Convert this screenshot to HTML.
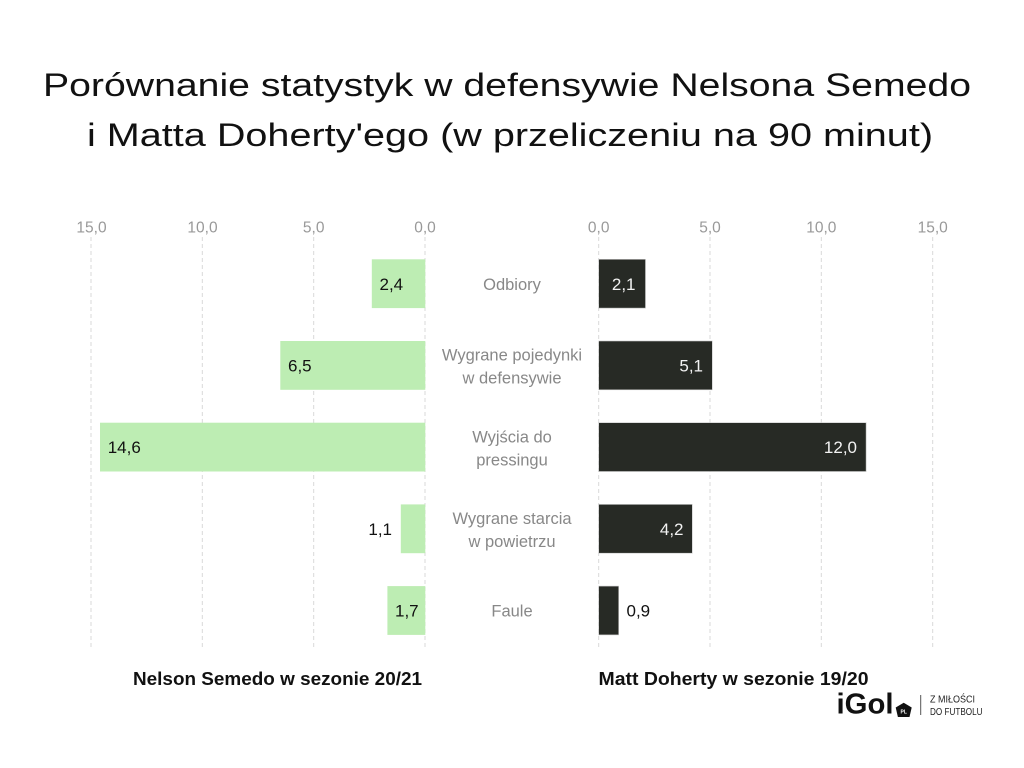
<!DOCTYPE html>
<html>
<head>
<meta charset="utf-8">
<style>
  html, body { margin:0; padding:0; background:#fff; }
  svg { display:block; }
  text { font-family: "Liberation Sans", "DejaVu Sans", sans-serif; }
</style>
</head>
<body>
<svg width="1024" height="768" viewBox="0 0 1024 768" xmlns="http://www.w3.org/2000/svg">
  <rect width="1024" height="768" fill="#ffffff"/>

  <!-- Title -->
  <text x="507" y="96" font-size="32" fill="#111" text-anchor="middle" textLength="928" lengthAdjust="spacingAndGlyphs">Porównanie statystyk w defensywie Nelsona Semedo</text>
  <text x="510" y="146" font-size="32" fill="#111" text-anchor="middle" textLength="846" lengthAdjust="spacingAndGlyphs">i Matta Doherty'ego (w przeliczeniu na 90 minut)</text>

  <!-- Grid lines -->
  <g stroke="#d9d9d9" stroke-width="1" stroke-dasharray="4 3">
    <line x1="91" y1="237" x2="91" y2="650"/>
    <line x1="202.3" y1="237" x2="202.3" y2="650"/>
    <line x1="313.7" y1="237" x2="313.7" y2="650"/>
    <line x1="425" y1="237" x2="425" y2="650"/>
    <line x1="598.7" y1="237" x2="598.7" y2="650"/>
    <line x1="710" y1="237" x2="710" y2="650"/>
    <line x1="821.3" y1="237" x2="821.3" y2="650"/>
    <line x1="932.7" y1="237" x2="932.7" y2="650"/>
  </g>

  <!-- Tick labels -->
  <g font-size="15.5" fill="#999" text-anchor="middle">
    <text x="91.5" y="232.5">15,0</text>
    <text x="202.5" y="232.5">10,0</text>
    <text x="313.7" y="232.5">5,0</text>
    <text x="425" y="232.5">0,0</text>
    <text x="598.7" y="232.5">0,0</text>
    <text x="710" y="232.5">5,0</text>
    <text x="821.3" y="232.5">10,0</text>
    <text x="932.7" y="232.5">15,0</text>
  </g>

  <!-- Left bars (green) -->
  <g fill="#bdedb3">
    <rect x="371.8" y="259.3" width="53.5" height="48.8"/>
    <rect x="280.3" y="341" width="145" height="48.8"/>
    <rect x="100" y="422.7" width="325.3" height="48.8"/>
    <rect x="400.8" y="504.4" width="24.5" height="48.8"/>
    <rect x="387.4" y="586.1" width="37.9" height="48.8"/>
  </g>

  <!-- Right bars (dark) -->
  <g fill="#272a25" stroke="#c8c8c8" stroke-width="0.6">
    <rect x="598.7" y="259.3" width="46.8" height="48.8"/>
    <rect x="598.7" y="341" width="113.6" height="48.8"/>
    <rect x="598.7" y="422.7" width="267.4" height="48.8"/>
    <rect x="598.7" y="504.4" width="93.6" height="48.8"/>
    <rect x="598.7" y="586.1" width="20" height="48.8"/>
  </g>

  <!-- Left values -->
  <g font-size="17" fill="#111">
    <text x="379.5" y="290">2,4</text>
    <text x="288" y="371.5">6,5</text>
    <text x="107.7" y="453">14,6</text>
    <text x="392" y="535" text-anchor="end">1,1</text>
    <text x="395" y="616.5">1,7</text>
  </g>

  <!-- Right values -->
  <g font-size="17" fill="#f2f2f2" text-anchor="end">
    <text x="635.5" y="290">2,1</text>
    <text x="703" y="371.5">5,1</text>
    <text x="857" y="453">12,0</text>
    <text x="683.5" y="535">4,2</text>
  </g>
  <text x="626.5" y="616.5" font-size="17" fill="#111">0,9</text>

  <!-- Category labels -->
  <g font-size="16.5" fill="#888" text-anchor="middle">
    <text x="512" y="290">Odbiory</text>
    <text x="512" y="360.5">Wygrane pojedynki</text>
    <text x="512" y="383.5">w defensywie</text>
    <text x="512" y="442.5">Wyjścia do</text>
    <text x="512" y="465.5">pressingu</text>
    <text x="512" y="524">Wygrane starcia</text>
    <text x="512" y="547">w powietrzu</text>
    <text x="512" y="616.5">Faule</text>
  </g>

  <!-- Bottom player labels -->
  <text x="133" y="685" font-size="18" font-weight="bold" fill="#111" textLength="289" lengthAdjust="spacingAndGlyphs">Nelson Semedo w sezonie 20/21</text>
  <text x="598.5" y="685" font-size="18" font-weight="bold" fill="#111" textLength="270" lengthAdjust="spacingAndGlyphs">Matt Doherty w sezonie 19/20</text>

  <!-- Logo -->
  <text x="836.5" y="713.5" font-size="29" font-weight="bold" fill="#111" textLength="57" lengthAdjust="spacingAndGlyphs">iGol</text>
  <polygon points="903.7,702.7 911.7,707.5 909.5,717 897.9,717 895.7,707.5" fill="#111"/>
  <text x="903.7" y="713.5" font-size="5" font-weight="bold" fill="#fff" text-anchor="middle">PL</text>
  <line x1="920.7" y1="695" x2="920.7" y2="715" stroke="#555" stroke-width="1"/>
  <text x="930" y="702.7" font-size="10" fill="#222" textLength="45" lengthAdjust="spacingAndGlyphs">Z MIŁOŚCI</text>
  <text x="930" y="715" font-size="10" fill="#222" textLength="52.5" lengthAdjust="spacingAndGlyphs">DO FUTBOLU</text>
</svg>
</body>
</html>
